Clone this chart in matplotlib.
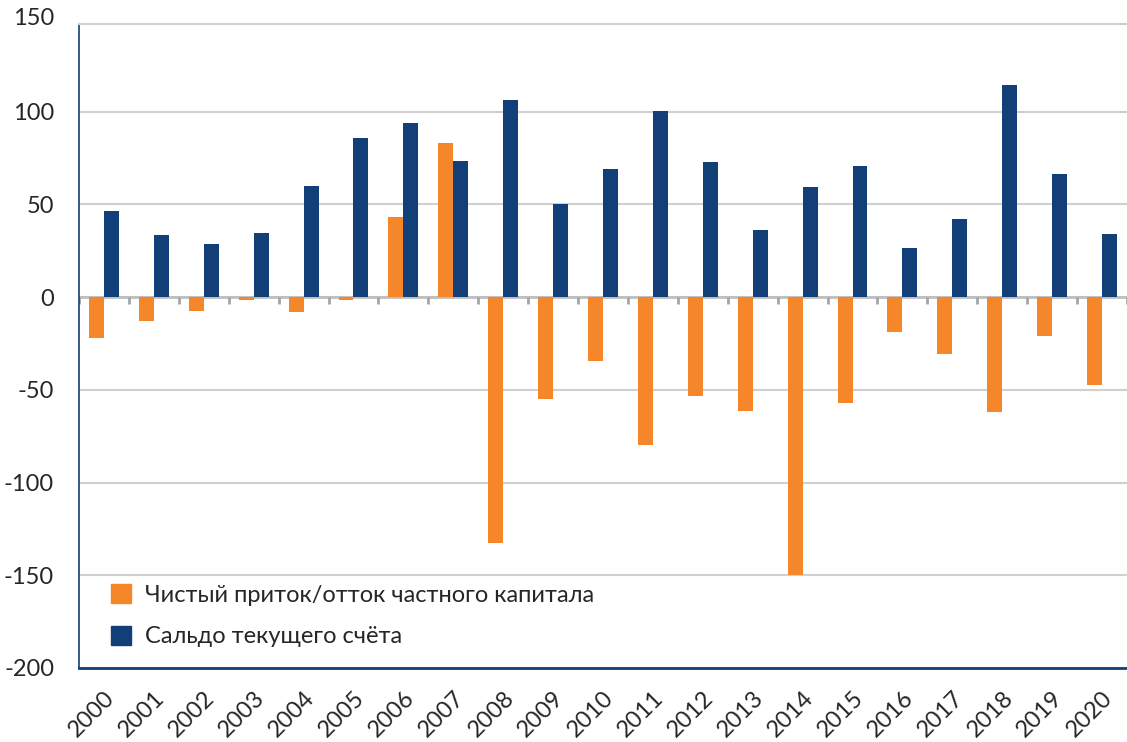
import matplotlib
matplotlib.use("Agg")
import matplotlib.pyplot as plt
import numpy as np
from matplotlib.patches import Patch

years = [str(y) for y in range(2000, 2021)]
capital_flow = [-22, -13, -7.5, -1.5, -8, -1.5, 43, 83, -132.5, -55, -34.5,
                -80, -53.5, -61.5, -150, -57, -19, -30.5, -62, -21, -47.5]
current_account = [46.5, 33.5, 28.5, 34.5, 60, 86, 94, 73.5, 106, 50, 69,
                   100.5, 73, 36, 59.5, 70.5, 26.5, 42, 114.5, 66.5, 34]
yticks = [-200, -150, -100, -50, 0, 50, 100]
ytop_label = 150

label_flow = "Чистый приток/отток частного капитала"
label_ca = "Сальдо текущего счёта"

c_orange = "#F5862A"
c_blue = "#123F78"
c_text = "#262626"
c_grid = "#D0D0D0"

plt.rcParams['font.family'] = ['Lato', 'DejaVu Sans']

fig = plt.figure(figsize=(11.27, 7.42), dpi=100)
ax = fig.add_axes([79/1127, 1-668/742, 1-79/1127, (668-24)/742])

x = np.arange(len(years))
w = 0.3
ax.bar(x - w/2, capital_flow, width=w, color=c_orange, zorder=3)
ax.bar(x + w/2, current_account, width=w, color=c_blue, zorder=3)

ax.set_xlim(-0.5, len(years) - 0.5)
ax.set_ylim(-200, 147.2)
ax.set_yticks(yticks)
ax.set_yticklabels([str(v) for v in yticks])
ax.grid(axis='y', color=c_grid, linewidth=1.5, zorder=0)
ax.set_axisbelow(True)

# top label (plot area edge acts as the top gridline)
ax.annotate(str(ytop_label), xy=(0, ytop_label), xycoords=('axes fraction', 'data'),
            xytext=(-18, 0), textcoords='offset points', ha='right', va='center',
            fontsize=17, color=c_text, annotation_clip=False)

# zero line and boundary ticks
ax.axhline(0, color='#BFBFBF', linewidth=2, zorder=2)
bounds = np.arange(len(years) + 1) - 0.5
ax.vlines(bounds, -3.5, 0, color='#A6A6A6', linewidth=2, zorder=2)

ax.set_xticks(x)
ax.set_xticklabels(years, rotation=45, ha='right', va='top', rotation_mode='anchor')
ax.tick_params(axis='x', length=0, pad=14, labelsize=17, labelcolor=c_text)
ax.tick_params(axis='y', length=0, pad=18, labelsize=17, labelcolor=c_text)

ax.spines['right'].set_visible(False)
ax.spines['top'].set_color(c_grid)
ax.spines['top'].set_linewidth(1.5)
ax.spines['left'].set_color(c_blue)
ax.spines['left'].set_linewidth(1.2)
ax.spines['bottom'].set_color(c_blue)
ax.spines['bottom'].set_linewidth(2)

handles = [Patch(color=c_orange, label=label_flow), Patch(color=c_blue, label=label_ca)]
leg = ax.legend(handles=handles, loc='upper left', bbox_to_anchor=(104/1127, 1-577/742),
                bbox_transform=fig.transFigure, frameon=False, fontsize=17,
                handlelength=0.85, handleheight=0.85, handletextpad=0.6,
                labelspacing=0.85, borderaxespad=0, borderpad=0.3)
for t in leg.get_texts():
    t.set_color(c_text)

fig.savefig("out.png", dpi=100)
